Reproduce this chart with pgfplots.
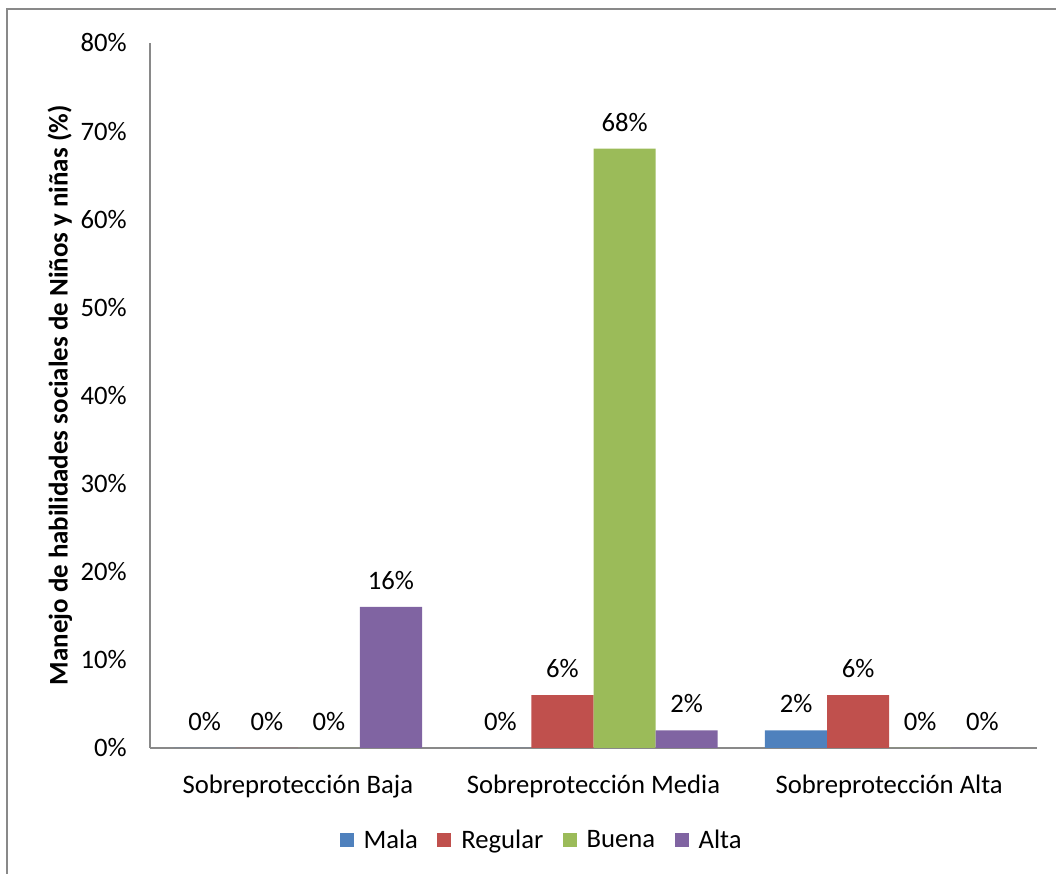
\documentclass[border=0pt]{standalone}
\usepackage{pgfplots}
\pgfplotsset{compat=1.18}
\usepackage{fontspec}
\setmainfont{Carlito}
\definecolor{mala}{HTML}{4F81BD}
\definecolor{regular}{HTML}{C0504D}
\definecolor{buena}{HTML}{9BBB59}
\definecolor{alta}{HTML}{8064A2}
\definecolor{framegray}{HTML}{898989}
\begin{document}
\begin{tikzpicture}[x=0.75pt,y=0.75pt]
\useasboundingbox (0,0) rectangle (1056,874);
\draw[framegray, line width=1.3pt] (7,-20) -- (7,865) -- (1080,865);
\begin{axis}[
  at={(112.5pt,94.5pt)}, anchor=south west,
  scale only axis, width=665.25pt, height=528.75pt,
  ybar=0pt, bar width=0.21,
  xmin=-0.5, xmax=2.5, ymin=0, ymax=80,
  axis x line=bottom, axis y line=left,
  axis line style={-, draw=framegray, line width=1pt},
  major tick length=0pt,
  xtick={0,1,2},
  xticklabels={Sobreprotección Baja, Sobreprotección Media, Sobreprotección Alta},
  ytick={0,10,...,80},
  yticklabel={\pgfmathprintnumber{\tick}\%},
  /pgf/number format/assume math mode=true,
  tick label style={font=\fontsize{20}{24}\selectfont},
  yticklabel style={xshift=-14pt},
  xticklabel style={yshift=-17pt},
  ylabel={Manejo de habilidades sociales de Niños y niñas (\%)},
  ylabel style={at={(axis description cs:-0.1015,0.5)}, anchor=center, font=\fontsize{20.2}{24}\selectfont\bfseries},
  nodes near coords={\pgfmathprintnumber{\pgfplotspointmeta}\%},
  every node near coord/.append style={font=\fontsize{20}{24}\selectfont, yshift=9.5pt, black},
  legend columns=4,
  legend style={at={(axis description cs:0.4414,-0.1305)}, anchor=center, draw=none, font=\fontsize{20}{24}\selectfont, column sep=6pt, nodes={inner xsep=1.5pt}, /tikz/every even column/.append style={column sep=13pt}},
]
\addplot[fill=mala, draw=none, legend image code/.code={\fill[mala] (0pt,-5.25pt) rectangle (10.5pt,5.25pt);}] coordinates {(0,0) (1,0) (2,2)};
\addplot[fill=regular, draw=none, legend image code/.code={\fill[regular] (0pt,-5.25pt) rectangle (10.5pt,5.25pt);}] coordinates {(0,0) (1,6) (2,6)};
\addplot[fill=buena, draw=none, legend image code/.code={\fill[buena] (0pt,-5.25pt) rectangle (10.5pt,5.25pt);}] coordinates {(0,0) (1,68) (2,0)};
\addplot[fill=alta, draw=none, legend image code/.code={\fill[alta] (0pt,-5.25pt) rectangle (10.5pt,5.25pt);}] coordinates {(0,16) (1,2) (2,0)};
\legend{Mala, Regular, Buena, Alta}
\end{axis}
\end{tikzpicture}
\end{document}
